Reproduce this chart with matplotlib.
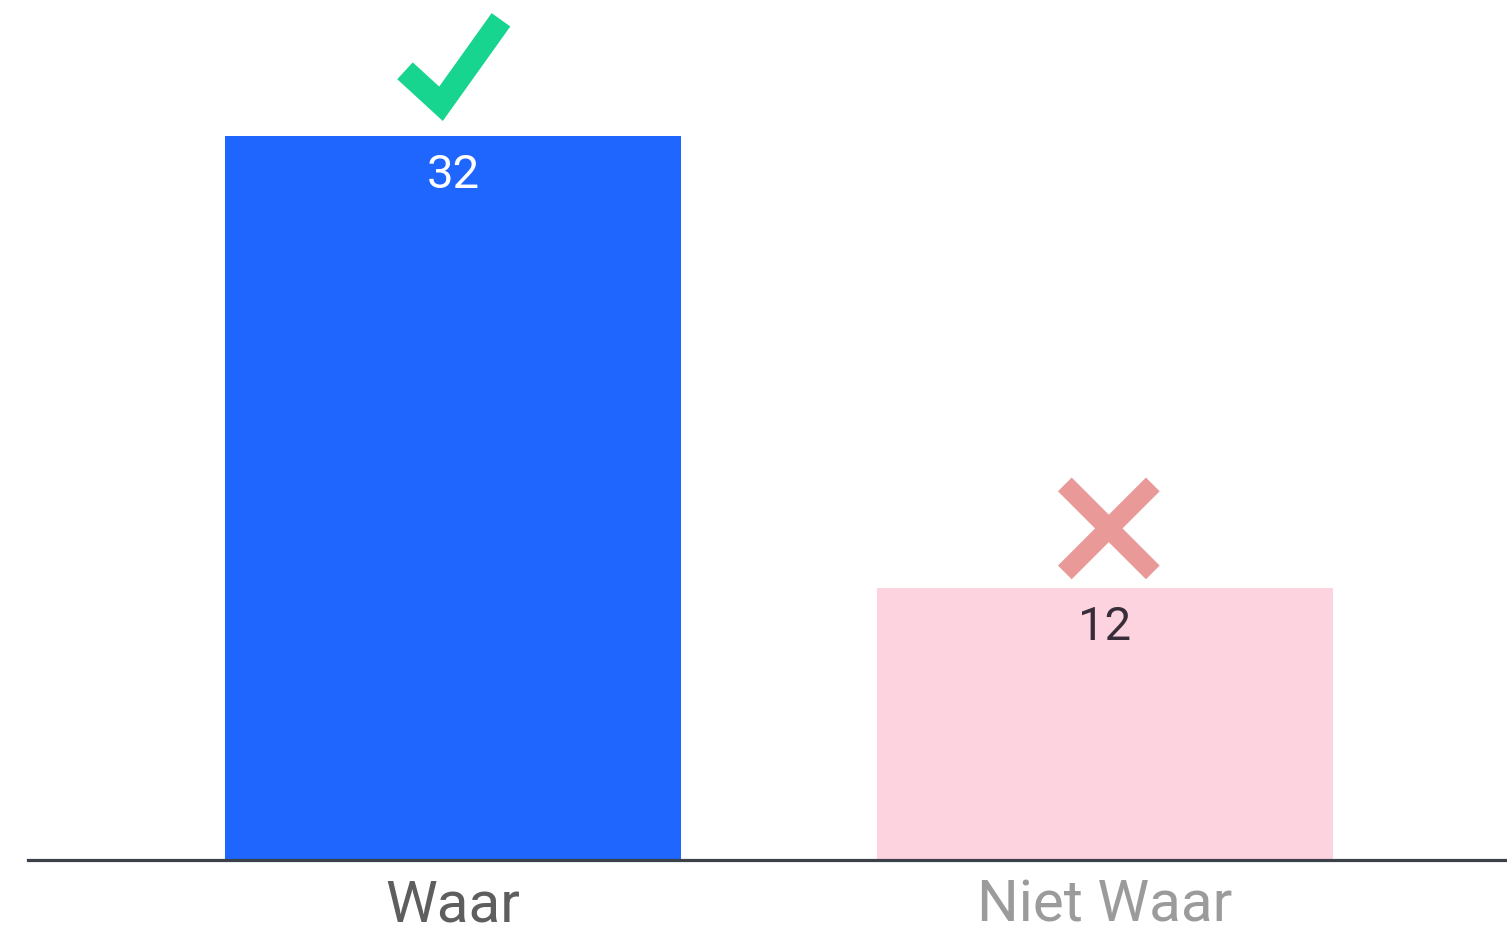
import matplotlib.pyplot as plt
import numpy as np

categories = ['Waar', 'Niet Waar']
values = [32, 12]
bar_colors = ['#1f66ff', '#fdd3e0']
value_colors = ['white', '#3a2d3a']
label_colors = ['#5e5e5e', '#9b9b9b']
correct = [True, False]

plt.rcParams['font.family'] = ['Roboto', 'DejaVu Sans']

fig = plt.figure(figsize=(15.07, 9.35), dpi=100)
ax = fig.add_axes([28 / 1507, 75 / 935, 1 - 28 / 1507, 860 / 935])

x = np.arange(len(categories))
bars = ax.bar(x, values, width=0.70, color=bar_colors, zorder=2)

ax.set_xlim(-0.652, 1.617)
ax.set_ylim(0, 38)

# pixels -> data units
px_x = 1 / 652
px_y = 38 / 860

for xi, v, c in zip(x, values, value_colors):
    ax.annotate(str(v), (xi, v), xytext=(0, -28), textcoords='offset points',
                ha='center', va='center', fontsize=34, color=c, zorder=3)

for xi, v, ok in zip(x, values, correct):
    if ok:
        # check mark
        xs = xi + np.array([-48, -12, 48]) * px_x
        ys = v + np.array([65, 32, 116]) * px_y
        ax.plot(xs, ys, color='#17d48e', lw=16.5, solid_capstyle='butt',
                solid_joinstyle='miter', clip_on=False, zorder=3)
    else:
        # cross
        cx, cy = xi + 4 * px_x, v + 60 * px_y
        d = 44
        ax.plot([cx - d * px_x, cx + d * px_x], [cy + d * px_y, cy - d * px_y],
                color='#e99a98', lw=14, solid_capstyle='butt', clip_on=False, zorder=3)
        ax.plot([cx - d * px_x, cx + d * px_x], [cy - d * px_y, cy + d * px_y],
                color='#e99a98', lw=14, solid_capstyle='butt', clip_on=False, zorder=3)

ax.set_xticks(x)
ax.set_xticklabels(categories, fontsize=42)
for lbl, c in zip(ax.get_xticklabels(), label_colors):
    lbl.set_color(c)
ax.tick_params(axis='x', length=0, pad=13)
ax.set_yticks([])

for s in ['top', 'right', 'left']:
    ax.spines[s].set_visible(False)
ax.spines['bottom'].set_color('#3c4048')
ax.spines['bottom'].set_linewidth(2.3)
ax.spines['bottom'].set_zorder(4)

fig.savefig('out.png', dpi=100, facecolor='white')
